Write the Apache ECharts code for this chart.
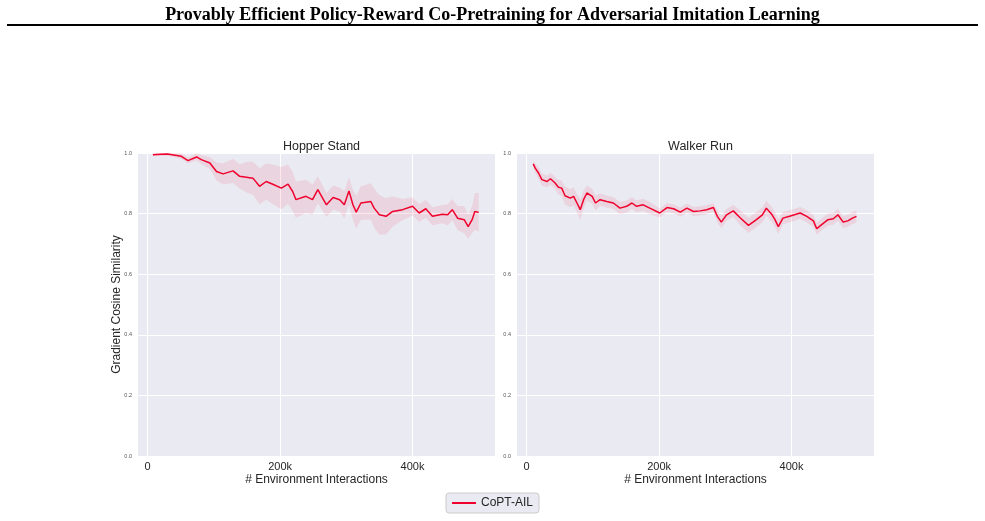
<html>
<head>
  <meta charset="utf-8">
  <title>CoPT-AIL gradient cosine similarity</title>
  <script src="https://cdn.jsdelivr.net/npm/echarts@6/dist/echarts.min.js"></script>
</head>
<body style="margin:0;background:#fff;">
  <div id="main" style="width: 985px;height:521px;"></div>
  <script type="text/javascript">
    // env interactions in thousands
    var hopperSteps = [8, 20, 30, 44, 51, 61, 74, 81, 94, 104, 114, 129, 139, 149, 159, 169, 179, 189, 202, 212, 219, 224, 239, 249, 257, 270, 280, 290, 297, 304, 310, 315, 322, 337, 342, 350, 360, 370, 385, 400, 410, 420, 430, 445, 453, 460, 468, 478, 484, 490, 494, 500];
    var hopperMean = [0.994, 0.996, 0.997, 0.992, 0.989, 0.975, 0.987, 0.978, 0.967, 0.939, 0.931, 0.941, 0.923, 0.920, 0.917, 0.890, 0.906, 0.897, 0.884, 0.897, 0.873, 0.846, 0.857, 0.846, 0.879, 0.829, 0.853, 0.846, 0.829, 0.875, 0.829, 0.805, 0.835, 0.840, 0.818, 0.796, 0.791, 0.807, 0.813, 0.824, 0.802, 0.816, 0.791, 0.798, 0.796, 0.813, 0.785, 0.780, 0.757, 0.780, 0.807, 0.804];
    var hopperSpread = [0.005, 0.006, 0.006, 0.008, 0.01, 0.01, 0.012, 0.015, 0.02, 0.03, 0.035, 0.04, 0.04, 0.05, 0.055, 0.06, 0.06, 0.065, 0.07, 0.065, 0.065, 0.06, 0.055, 0.05, 0.045, 0.04, 0.04, 0.04, 0.045, 0.045, 0.05, 0.055, 0.055, 0.06, 0.065, 0.065, 0.06, 0.05, 0.035, 0.03, 0.03, 0.03, 0.03, 0.03, 0.035, 0.035, 0.04, 0.045, 0.04, 0.045, 0.06, 0.065];

    var walkerSteps = [10, 13, 18, 23, 31, 36, 43, 48, 53, 58, 66, 71, 76, 81, 86, 91, 99, 104, 111, 121, 131, 141, 151, 159, 166, 176, 186, 201, 212, 222, 232, 242, 252, 262, 272, 282, 288, 294, 302, 312, 322, 335, 347, 356, 362, 370, 375, 380, 387, 397, 413, 423, 433, 438, 445, 455, 463, 470, 478, 485, 492, 498];
    var walkerMean = [0.964, 0.950, 0.934, 0.912, 0.906, 0.915, 0.901, 0.887, 0.884, 0.859, 0.851, 0.857, 0.835, 0.813, 0.846, 0.868, 0.857, 0.835, 0.846, 0.840, 0.835, 0.818, 0.824, 0.835, 0.824, 0.829, 0.818, 0.802, 0.820, 0.816, 0.805, 0.818, 0.807, 0.809, 0.813, 0.820, 0.791, 0.772, 0.796, 0.809, 0.787, 0.761, 0.780, 0.796, 0.818, 0.798, 0.780, 0.757, 0.785, 0.791, 0.802, 0.791, 0.776, 0.750, 0.763, 0.780, 0.783, 0.796, 0.772, 0.776, 0.785, 0.791];
    var walkerSpread = [0.01, 0.015, 0.02, 0.02, 0.02, 0.02, 0.02, 0.025, 0.025, 0.03, 0.03, 0.03, 0.03, 0.035, 0.03, 0.025, 0.025, 0.025, 0.02, 0.02, 0.02, 0.02, 0.02, 0.02, 0.02, 0.02, 0.02, 0.015, 0.015, 0.015, 0.015, 0.015, 0.015, 0.015, 0.015, 0.015, 0.02, 0.02, 0.02, 0.02, 0.025, 0.025, 0.025, 0.025, 0.025, 0.025, 0.025, 0.025, 0.02, 0.02, 0.02, 0.02, 0.02, 0.02, 0.02, 0.02, 0.02, 0.02, 0.02, 0.02, 0.02, 0.02];

    var xTicks = [0, 200, 400];
    var panelTitles = ['Hopper Stand', 'Walker Run'];
    var methodName = 'CoPT-AIL';

    var lineColor = '#f0002c';
    var bandColor = 'rgba(240,0,44,0.09)';
    var font = 'Liberation Sans';

    var myChart = echarts.init(document.getElementById('main'));

    function pairs(xs, ys) {
      var out = [];
      for (var i = 0; i < xs.length; i++) out.push([xs[i], ys[i]]);
      return out;
    }

    function panelSeries(idx, xs, mean, spread) {
      var band = [];
      for (var i = 0; i < xs.length; i++) {
        band.push([xs[i], mean[i] - spread[i], Math.min(1, mean[i] + spread[i])]);
      }
      return [{
        name: 'band' + idx, type: 'custom', xAxisIndex: idx, yAxisIndex: idx,
        data: band, silent: true, z: 1, clip: true,
        renderItem: function (params, api) {
          if (params.dataIndex !== 0) return null;
          var pts = [];
          for (var j = 0; j < band.length; j++) pts.push(api.coord([band[j][0], band[j][2]]));
          for (var k = band.length - 1; k >= 0; k--) pts.push(api.coord([band[k][0], band[k][1]]));
          return { type: 'polygon', shape: { points: pts }, style: { fill: bandColor } };
        }
      }, {
        name: methodName, type: 'line', xAxisIndex: idx, yAxisIndex: idx,
        data: pairs(xs, mean), symbol: 'none',
        lineStyle: { color: lineColor, width: 1.5 }, itemStyle: { color: lineColor }, z: 3
      }];
    }

    function xAxis(idx) {
      return {
        type: 'value', gridIndex: idx, min: -14.5, max: 524.5,
        name: '# Environment Interactions', nameLocation: 'middle', nameGap: 18,
        nameMoveOverlap: false,
        nameTextStyle: { fontFamily: font, fontSize: 12, color: '#262626' },
        axisLine: { show: false },
        axisTick: { show: false, customValues: xTicks },
        axisLabel: {
          customValues: xTicks, margin: 5, fontFamily: font, fontSize: 11, color: '#262626',
          formatter: function (v) { return v === 0 ? '0' : v + 'k'; }
        },
        splitLine: { show: true, lineStyle: { color: '#ffffff', width: 1 } }
      };
    }

    function yAxis(idx) {
      return {
        type: 'value', gridIndex: idx, min: 0, max: 1, interval: 0.2,
        name: idx === 0 ? 'Gradient Cosine Similarity' : '',
        nameLocation: 'middle', nameGap: 15, nameMoveOverlap: false,
        nameTextStyle: { fontFamily: font, fontSize: 12, color: '#262626' },
        axisLine: { show: false },
        axisTick: { show: false },
        axisLabel: {
          margin: 6, fontFamily: font, fontSize: 5.5, color: '#555555',
          formatter: function (v) { return v.toFixed(1); }
        },
        splitLine: { show: true, lineStyle: { color: '#ffffff', width: 1 } }
      };
    }

    var series = [].concat(
      panelSeries(0, hopperSteps, hopperMean, hopperSpread),
      panelSeries(1, walkerSteps, walkerMean, walkerSpread)
    );

    myChart.setOption({
      animation: false,
      backgroundColor: '#ffffff',
      title: [{
        text: 'Provably Efficient Policy-Reward Co-Pretraining for Adversarial Imitation Learning',
        left: 'center', top: 1,
        textStyle: { fontFamily: 'Liberation Serif', fontWeight: 'bold', fontSize: 18, color: '#000' }
      }, {
        text: panelTitles[0], left: 316.5, top: 135, textAlign: 'center',
        textStyle: { fontFamily: font, fontWeight: 'normal', fontSize: 12.5, color: '#262626' }
      }, {
        text: panelTitles[1], left: 695.5, top: 135, textAlign: 'center',
        textStyle: { fontFamily: font, fontWeight: 'normal', fontSize: 12.5, color: '#262626' }
      }],
      graphic: [{
        type: 'line', shape: { x1: 7, y1: 25, x2: 978, y2: 25 },
        style: { stroke: '#000', lineWidth: 2 }
      }],
      grid: [
        { left: 138, top: 153, width: 357, height: 303, show: true, backgroundColor: '#eaeaf2', borderWidth: 0 },
        { left: 517, top: 153, width: 357, height: 303, show: true, backgroundColor: '#eaeaf2', borderWidth: 0 }
      ],
      xAxis: [xAxis(0), xAxis(1)],
      yAxis: [yAxis(0), yAxis(1)],
      legend: {
        data: [methodName], left: 'center', top: 493,
        icon: 'rect', itemWidth: 24, itemHeight: 2, itemGap: 8,
        backgroundColor: '#eaeaf2', borderColor: '#cccccc', borderWidth: 1, borderRadius: 3,
        padding: [4, 6, 4, 6],
        textStyle: { fontFamily: font, fontSize: 12, color: '#262626' }
      },
      series: series
    });
  </script>
</body>
</html>
